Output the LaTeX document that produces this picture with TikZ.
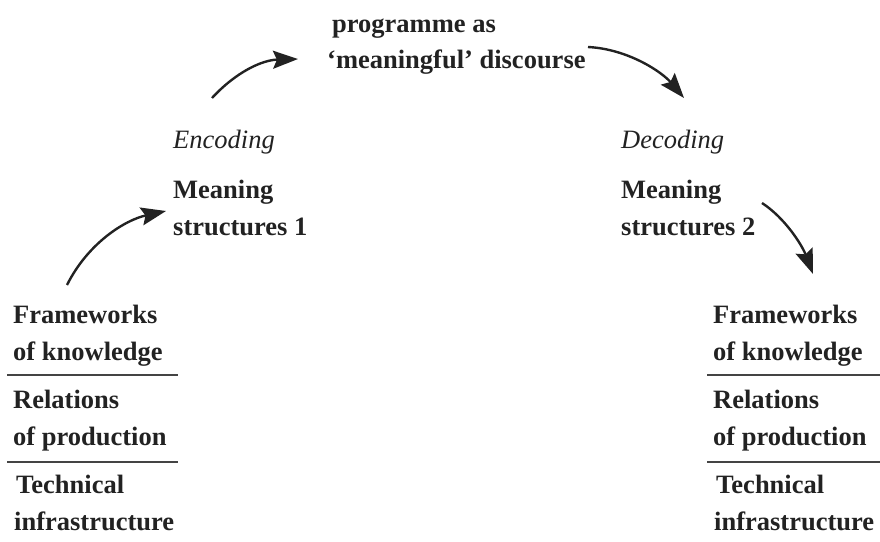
\documentclass[tikz,border=0pt]{standalone}
\usepackage{fontspec}
\setmainfont{Liberation Serif}
\usetikzlibrary{arrows.meta}
\definecolor{ink}{HTML}{222222}
\definecolor{rule}{HTML}{444444}
\tikzset{
  lbl/.style={anchor=base west, inner sep=0pt, text=ink, font=\fontsize{26.5}{30}\selectfont\bfseries},
  ital/.style={anchor=base west, inner sep=0pt, text=ink, font=\fontsize{26.5}{30}\selectfont\itshape},
  flow/.style={draw=ink, line width=2.4pt, -{Stealth[length=25pt,width=18pt,inset=4pt]}},
  sep/.style={draw=rule, line width=1.2pt}
}
\begin{document}
\begin{tikzpicture}[x=1pt,y=-1pt]
\useasboundingbox (0,0) rectangle (880,541);
% top
\node[lbl] (p1) at (332,32) {programme as};
\node[lbl] (p2) at (327,68) {‘meaningful’ discourse};
% encoding
\node[ital] (enc) at (173,148) {Encoding};
\node[lbl] (m1a) at (173,198) {Meaning};
\node[lbl] (m1b) at (173,235) {structures 1};
% decoding
\node[ital] (dec) at (621,148) {Decoding};
\node[lbl] (m2a) at (621,198) {Meaning};
\node[lbl] (m2b) at (621,235) {structures 2};
% left column
\node[lbl] (lf1) at (13,323) {Frameworks};
\node[lbl] (lf2) at (13,360) {of knowledge};
\node[lbl] (lr1) at (13,408) {Relations};
\node[lbl] (lr2) at (13,445) {of production};
\node[lbl] (lt1) at (16,493) {Technical};
\node[lbl] (lt2) at (14,530) {infrastructure};
\coordinate (la1) at (7,375); \coordinate (lb1) at (178,375);
\coordinate (la2) at (7,462); \coordinate (lb2) at (178,462);
\draw[sep] (la1) -- (lb1);
\draw[sep] (la2) -- (lb2);
% right column
\node[lbl] (rf1) at (713,323) {Frameworks};
\node[lbl] (rf2) at (713,360) {of knowledge};
\node[lbl] (rr1) at (713,408) {Relations};
\node[lbl] (rr2) at (713,445) {of production};
\node[lbl] (rt1) at (716,493) {Technical};
\node[lbl] (rt2) at (714,530) {infrastructure};
\coordinate (ra1) at (707,375); \coordinate (rb1) at (880,375);
\coordinate (ra2) at (707,462); \coordinate (rb2) at (880,462);
\draw[sep] (ra1) -- (rb1);
\draw[sep] (ra2) -- (rb2);
% arrows
\coordinate (a1s) at (212,98);  \coordinate (a1e) at (298,59);
\coordinate (a2s) at (588,47);  \coordinate (a2e) at (684,98);
\coordinate (a3s) at (67,285);  \coordinate (a3e) at (166,211);
\coordinate (a4s) at (762,203); \coordinate (a4e) at (813,274);
\draw[flow] (a1s) .. controls (236,72) and (262,60) .. (a1e);
\draw[flow] (a2s) .. controls (628,49) and (662,72) .. (a2e);
\draw[flow] (a3s) .. controls (88,243) and (125,220) .. (a3e);
\draw[flow] (a4s) .. controls (785,218) and (802,245) .. (a4e);
\end{tikzpicture}
\end{document}
